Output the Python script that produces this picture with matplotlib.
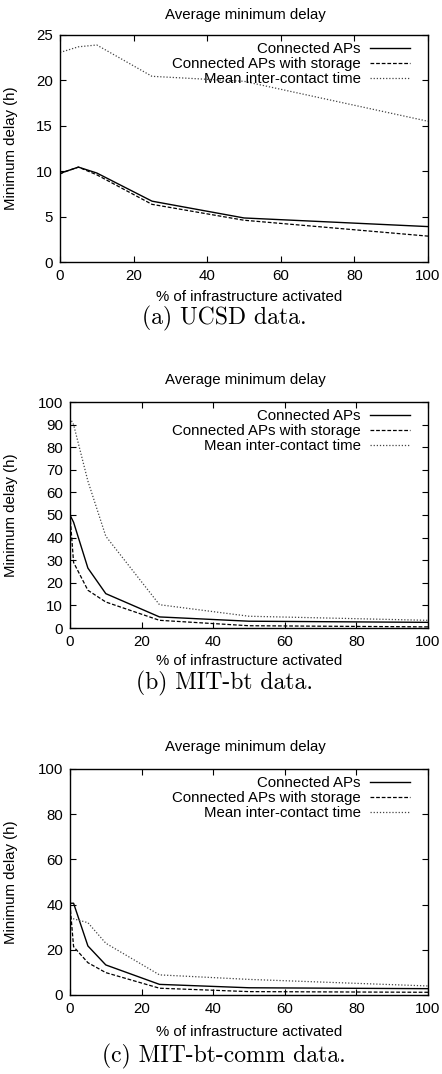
import numpy as np
import matplotlib
matplotlib.use("Agg")
import matplotlib.pyplot as plt

# x positions (% of infrastructure activated)
pct = [0, 1, 5, 10, 25, 50, 100]

# (a) UCSD
ucsd_conn = [9.7, 9.9, 10.45, 9.8, 6.7, 4.85, 3.9]
ucsd_stor = [9.7, 9.9, 10.45, 9.6, 6.35, 4.6, 2.85]
ucsd_mean = [23.1, 23.2, 23.7, 23.9, 20.45, 19.9, 15.5]

# (b) MIT-bt
mitbt_conn = [50.0, 46.8, 26.5, 15.2, 4.9, 3.0, 2.5]
mitbt_stor = [50.0, 29.0, 16.7, 11.5, 3.4, 1.0, 0.5]
mitbt_mean = [92.9, 90.0, 65.0, 40.6, 10.3, 5.2, 3.4]

# (c) MIT-bt-comm
comm_conn = [40.6, 40.6, 21.7, 13.3, 4.7, 3.2, 2.8]
comm_stor = [40.0, 21.4, 14.3, 9.9, 3.0, 1.5, 1.2]
comm_mean = [34.0, 33.7, 32.0, 22.9, 8.9, 6.9, 4.0]

labels = ["Connected APs", "Connected APs with storage", "Mean inter-contact time"]
captions = ["(a) UCSD data.", "(b) MIT-bt data.", "(c) MIT-bt-comm data."]

W, H = 442, 1074
fig = plt.figure(figsize=(W / 100, H / 100), dpi=100)
plt.rcParams['font.family'] = ['Liberation Sans', 'DejaVu Sans']
FS = 10.8


def box(l, t, r, b):
    return [l / W, 1 - b / H, (r - l) / W, (b - t) / H]


# pixel layout: axes box (l, t, r, b), title y, xlabel y, caption y
panels = [
    ((60, 35, 428, 262), 15, 297, 318, [0, 5, 10, 15, 20, 25], 25,
     (ucsd_conn, ucsd_stor, ucsd_mean)),
    ((70, 402, 428, 628), 380, 661, 683, list(range(0, 101, 10)), 100,
     (mitbt_conn, mitbt_stor, mitbt_mean)),
    ((70, 769, 428, 995), 747, 1032, 1056, [0, 20, 40, 60, 80, 100], 100,
     (comm_conn, comm_stor, comm_mean)),
]

for (px, ty, xly, cy, yt, ymax, (conn, stor, mean)), cap in zip(panels, captions):
    l, t, r, b = px
    aw, ah = r - l, b - t
    ax = fig.add_axes(box(*px))
    ax.plot(pct, conn, color='black', lw=1.0, ls='-', label=labels[0])
    ax.plot(pct, stor, color='black', lw=0.9, ls=(0, (3, 1.5)), label=labels[1])
    ax.plot(pct, mean, color='#444444', lw=0.9, ls=(0, (1, 1.5)), label=labels[2])
    ax.set_xlim(0, 100)
    ax.set_ylim(0, ymax)
    ax.set_xticks([0, 20, 40, 60, 80, 100])
    ax.set_yticks(yt)
    ax.tick_params(direction='in', top=True, right=True, labelsize=FS,
                   length=4, width=0.8, pad=5)
    for s in ax.spines.values():
        s.set_linewidth(1.0)
    ax.legend(loc='upper right', frameon=False, markerfirst=False,
              fontsize=FS, handlelength=2.67, handletextpad=0.6,
              labelspacing=0.07, borderpad=0, borderaxespad=0,
              bbox_to_anchor=(1 - 18 / aw, 1 - 7 / ah))
    ax.set_ylabel("Minimum delay (h)", fontsize=FS)
    ax.yaxis.set_label_coords((18 - l) / aw, 0.5)
    fig.text(245 / W, 1 - ty / H, "Average minimum delay", fontsize=FS,
             ha='center', va='center')
    fig.text(249 / W, 1 - xly / H, "% of infrastructure activated", fontsize=FS,
             ha='center', va='center')
    fig.text(224 / W, 1 - cy / H, cap, fontsize=17, family='cmr10',
             ha='center', va='center')

fig.savefig("out.png", dpi=100)
